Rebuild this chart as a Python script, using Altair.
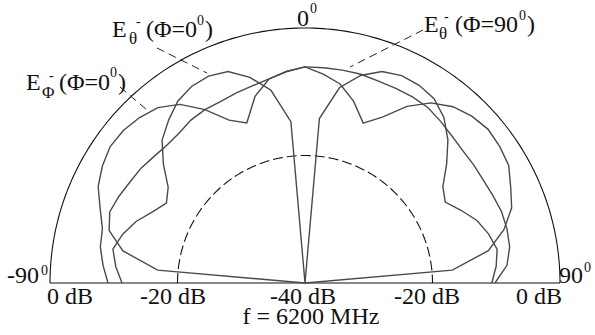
import altair as alt
import numpy as np
import pandas as pd

# Measured far-field levels (dB) at 5 degree steps, f = 6200 MHz
angles = list(range(-90, 95, 5))

e_theta_phi0 = [-11.3, -10.2, -9.4, -10.4, -11.8, -13.6, -14.9, -13.8, -11.0, -8.3,
                -6.7, -5.2, -4.4, -4.2, -4.7, -6.6, -9.3, -14.6, -40.0, -14.1,
                -8.9, -6.3, -4.7, -4.1, -4.2, -4.7, -6.1, -8.3, -11.0, -13.6,
                -14.6, -13.0, -11.3, -10.2, -9.4, -9.9, -10.7]

e_phi_phi0 = [-9.1, -8.2, -7.4, -7.1, -5.8, -4.2, -3.3, -2.7, -2.8, -3.3,
              -4.1, -5.8, -8.6, -11.8, -13.3, -9.7, -7.5, -6.7, -6.1, -7.1,
              -8.3, -10.5, -13.3, -11.3, -8.0, -5.5, -3.9, -3.0, -2.5, -2.7,
              -3.1, -4.4, -5.5, -7.7, -10.8, -16.8, -40.0]

e_theta_phi90 = [-40.0, -16.8, -11.0, -8.2, -7.4, -7.8, -8.3, -8.6, -9.1, -9.4,
                 -9.3, -8.8, -8.6, -8.6, -8.3, -8.0, -7.5, -6.7, -6.1, -6.1,
                 -6.1, -6.1, -6.3, -6.3, -6.3, -6.4, -6.9, -7.4, -7.7, -7.7,
                 -7.7, -7.5, -7.2, -7.2, -7.4, -8.2, -10.2]

series_names = ["E_theta(phi=0)", "E_phi(phi=0)", "E_theta(phi=90)"]
series_values = [e_theta_phi0, e_phi_phi0, e_theta_phi90]

db_min, db_max = -40, 0
ring_levels = [0, -20]          # solid outer ring, dashed inner ring
scale_labels = ["0 dB", "-20 dB", "-40 dB", "-20 dB", "0 dB"]
angle_labels = ["-90", "0", "90"]

rows = []
for name, vals in zip(series_names, series_values):
    for a, v in zip(angles, vals):
        rows.append({"series": name, "angle": a, "level": v})
patterns = pd.DataFrame(rows)

# geometry of the polar frame (radius 1 = 0 dB, centre = -40 dB)
R_PX = 255.0
CX, CY = 305.0, 283.0
W, H = 595, 335
xs = alt.Scale(domain=[-CX / R_PX, (W - CX) / R_PX], nice=False, zero=False)
ys = alt.Scale(domain=[-(H - CY) / R_PX, CY / R_PX], nice=False, zero=False)

sweep = np.linspace(-90, 90, 181)
ring_rows = []
for lev in ring_levels:
    for a in sweep:
        ring_rows.append({"ring": lev, "angle": float(a), "level": lev})
rings = pd.DataFrame(ring_rows)

polar_calc = dict(
    r="max(datum.level - %d, 0) / %d" % (db_min, db_max - db_min),
    x="datum.r * sin(datum.angle * PI / 180)",
    y="datum.r * cos(datum.angle * PI / 180)",
)

def polar_line(data, **mark):
    return (
        alt.Chart(data)
        .transform_calculate(**polar_calc)
        .mark_line(**mark)
        .encode(
            x=alt.X("x:Q", scale=xs, axis=None),
            y=alt.Y("y:Q", scale=ys, axis=None),
            order="angle:Q",
        )
    )

outer = polar_line(rings[rings.ring == 0], color="#111111", strokeWidth=1.1)
inner = polar_line(rings[rings.ring == -20], color="#111111", strokeWidth=1.1,
                   strokeDash=[10, 4])

baseline = alt.Chart(pd.DataFrame({"x": [-1.0], "x2": [1.0], "y": [0.0]})).mark_rule(
    color="#111111", strokeWidth=1.1
).encode(x=alt.X("x:Q", scale=xs, axis=None), x2="x2:Q",
         y=alt.Y("y:Q", scale=ys, axis=None))

curves = (
    alt.Chart(patterns)
    .transform_calculate(**polar_calc)
    .mark_line(color="#4a4a4a", strokeWidth=1.4)
    .encode(
        x=alt.X("x:Q", scale=xs, axis=None),
        y=alt.Y("y:Q", scale=ys, axis=None),
        detail="series:N",
        order="angle:Q",
    )
)

# dashed leader lines from the legend texts to their curves
leaders = pd.DataFrame({
    "x1": [157, 120, 423], "y1": [48, 87, 30],
    "x2": [207, 147, 350], "y2": [73, 110, 67],
})
leader_layer = alt.Chart(leaders).mark_rule(
    color="#222222", strokeWidth=1, strokeDash=[8, 5]
).encode(
    x=alt.X("x1:Q", scale=None), y=alt.Y("y1:Q", scale=None),
    x2="x2:Q", y2="y2:Q",
)

SERIF = "Liberation Serif"
BIG, SUB, SUP = 24, 17, 14

# text pieces: (text, left x, baseline y, size)
pieces_left = [
    # angle marks
    (angle_labels[1], 297, 26, BIG), ("0", 310, 13, SUP),
    (angle_labels[0], 7, 283, BIG), ("0", 41, 275, SUP),
    (angle_labels[2], 559, 283, BIG), ("0", 584, 272, SUP),
    (scale_labels[0], 47, 304, BIG),
    # E_theta(phi=0)
    ("E", 112, 37, BIG), ("\u03b8", 129, 44, SUB), ("-", 136, 26, SUP),
    ("(\u03a6=0", 146, 37, BIG), ("0", 197, 25, SUP), (")", 205, 37, BIG),
    # E_phi(phi=0)
    ("E", 26, 90, BIG), ("\u03a6", 42, 98, SUB), ("-", 49, 80, SUP),
    ("(\u03a6=0", 59, 90, BIG), ("0", 110, 77, SUP), (")", 118, 90, BIG),
    # E_theta(phi=90)
    ("E", 424, 32, BIG), ("\u03b8", 439, 39, SUB), ("-", 444, 21, SUP),
    ("(\u03a6=90", 455, 32, BIG), ("0", 519, 20, SUP), (")", 527, 32, BIG),
]

pieces_center = [
    (scale_labels[1], 173, 304, BIG),
    (scale_labels[2], 303, 304, BIG),
    (scale_labels[3], 427, 304, BIG),
    ("f = 6200 MHz", 311, 324, BIG),
]

pieces_right = [
    (scale_labels[4], 562, 304, BIG),
]

def text_layers(pieces, align):
    out = []
    for fs in sorted({p[3] for p in pieces}):
        df = pd.DataFrame([{"t": t, "px": x, "py": y} for t, x, y, s in pieces if s == fs])
        out.append(
            alt.Chart(df).mark_text(
                align=align, baseline="alphabetic", font=SERIF,
                fontSize=fs, color="#111111"
            ).encode(
                x=alt.X("px:Q", scale=None, axis=None),
                y=alt.Y("py:Q", scale=None, axis=None),
                text="t:N",
            )
        )
    return out

chart = (
    alt.layer(
        *text_layers(pieces_left, "left"),
        *text_layers(pieces_center, "center"),
        *text_layers(pieces_right, "right"),
        outer, inner, baseline, curves, leader_layer,
    )
    .properties(width=W, height=H, background="white", padding=0,
                autosize=alt.AutoSizeParams(type="none"))
    .configure(font=SERIF)
    .configure_text(font=SERIF)
    .configure_view(stroke=None)
)

chart.save("out.html", embed_options={"renderer": "svg", "actions": False})
